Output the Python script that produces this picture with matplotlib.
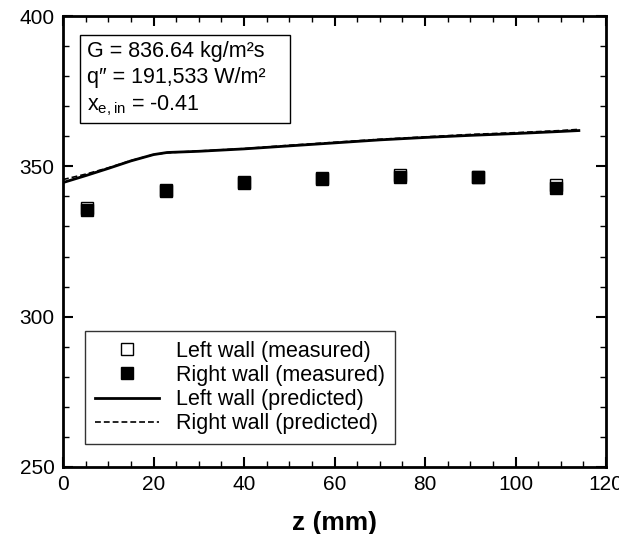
import matplotlib.pyplot as plt
from matplotlib.patches import Rectangle
from matplotlib.ticker import MultipleLocator

plt.rcParams["font.family"] = ["Liberation Sans", "DejaVu Sans"]
plt.rcParams["mathtext.fontset"] = "custom"
plt.rcParams["mathtext.rm"] = "Liberation Sans"
plt.rcParams["mathtext.it"] = "Liberation Sans:italic"

z_meas = [5.4, 22.7, 40.0, 57.2, 74.5, 91.7, 109.0]
left_meas = [336.3, 342.0, 344.6, 346.0, 347.1, 346.5, 343.9]
right_meas = [335.4, 341.8, 344.7, 345.8, 346.5, 346.3, 342.9]

z_pred = [0, 5, 10, 15, 20, 23, 30, 40, 50, 60, 70, 80, 90, 100, 110, 114]
left_pred = [344.6, 346.9, 349.3, 351.8, 353.9, 354.6, 355.0, 355.8, 356.8, 357.8, 358.8, 359.6, 360.3, 360.9, 361.6, 361.9]
right_pred = [345.6, 347.4, 349.5, 351.9, 353.9, 354.5, 355.1, 355.9, 357.0, 358.0, 359.0, 359.8, 360.6, 361.2, 361.9, 362.3]

fig = plt.figure(figsize=(6.19, 5.34), dpi=100)
ax = fig.add_axes([63 / 619, 67 / 534, 543 / 619, 451 / 534])

ax.plot(z_meas, left_meas, "s", ms=9, mfc="white", mec="black", mew=1.0,
        ls="none", label="Left wall (measured)")
ax.plot(z_meas, right_meas, "s", ms=9, mfc="black", mec="black",
        ls="none", label="Right wall (measured)")
ax.plot(z_pred, left_pred, "-", color="black", lw=2, label="Left wall (predicted)")
ax.plot(z_pred, right_pred, "--", color="black", lw=1.2, dashes=(3.5, 1.8),
        label="Right wall (predicted)")

ax.set_xlim(0, 120)
ax.set_ylim(250, 400)
ax.xaxis.set_major_locator(MultipleLocator(20))
ax.xaxis.set_minor_locator(MultipleLocator(5))
ax.yaxis.set_major_locator(MultipleLocator(50))
ax.yaxis.set_minor_locator(MultipleLocator(10))
ax.tick_params(which="both", direction="in", top=True, right=True, labelsize=15, pad=6)
ax.tick_params(which="major", length=7.5, width=1.5)
ax.tick_params(which="minor", length=4.5, width=1)
for s in ax.spines.values():
    s.set_linewidth(2)

ax.set_xlabel("z (mm)", fontsize=19, fontweight="bold", labelpad=12)

# info box
ax.add_patch(Rectangle((0.0313, 0.763), 0.387, 0.195, transform=ax.transAxes,
                       fc="white", ec="black", lw=1, zorder=4))
ax.text(0.044, 0.944,
        "G = 836.64 kg/m\u00b2s\nq\u2033 = 191,533 W/m\u00b2\nx$_{\\mathrm{e,in}}$ = -0.41",
        transform=ax.transAxes, fontsize=15.5, va="top", ha="left", linespacing=1.3,
        zorder=5)

leg = ax.legend(loc="lower left", bbox_to_anchor=(0.0405, 0.0510), borderaxespad=0,
                fontsize=15.5, frameon=True, fancybox=False, edgecolor="black",
                handlelength=3.0, handletextpad=0.8, labelspacing=0.15,
                borderpad=0.45, numpoints=1)
leg.get_frame().set_linewidth(1)

fig.savefig("out.png", dpi=100)
